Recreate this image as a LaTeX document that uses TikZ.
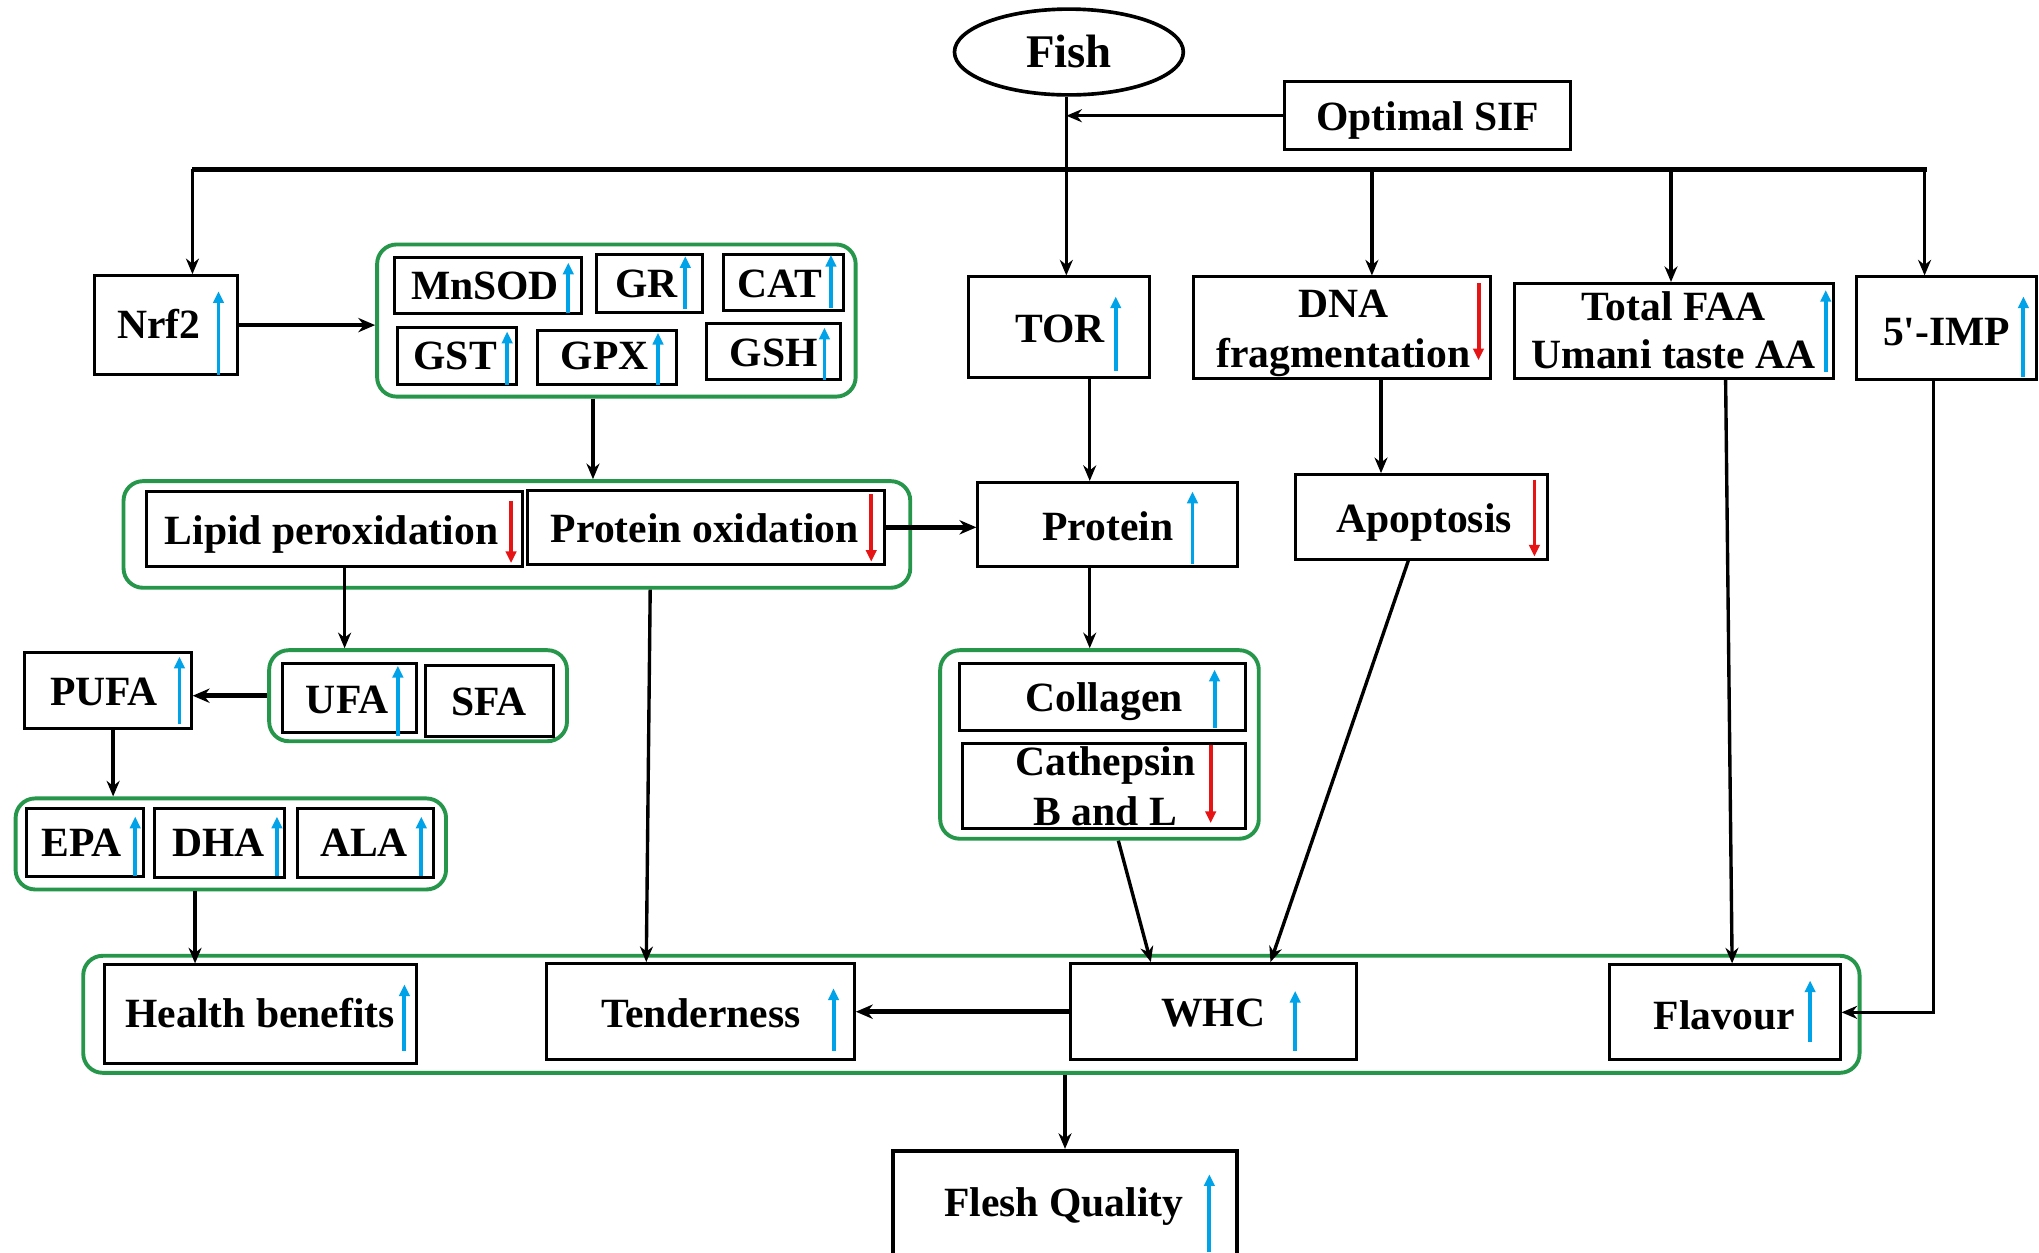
\documentclass[tikz,border=0pt]{standalone}
\usepackage{fontspec}
\setmainfont{Liberation Serif}
\usetikzlibrary{arrows.meta,shapes.geometric}
\definecolor{grn}{RGB}{38,150,75}
\definecolor{blu}{RGB}{0,162,232}
\definecolor{rd}{RGB}{230,20,20}
\newcommand{\mybox}[6][bx]{\node[#1, minimum width={#5-#3}, minimum height={#6-#4}] (#2) at ({(#3+#5)/2},{(#4+#6)/2}) {};}
\newcommand{\upar}[3]{\draw[uparr] (#1,#2) -- (#1,#3);}
\newcommand{\dnar}[3]{\draw[dnarr] (#1,#2) -- (#1,#3);}
\begin{document}
\begin{tikzpicture}[x=1pt,y=-1pt,
 bx/.style={draw, line width=2.3pt, inner sep=0},
 grp/.style={draw=grn, line width=3pt, rounded corners=15pt, inner sep=0},
 txt/.style={font=\fontsize{32}{38}\selectfont\bfseries, anchor=base, yshift=-10.5pt, inner sep=0},
 bigtxt/.style={font=\fontsize{36}{42}\selectfont\bfseries, anchor=base, yshift=-11.8pt, inner sep=0},
 arr/.style={line width=2.6pt, -{Stealth[length=12pt,width=10pt]}},
 thickarr/.style={line width=3.6pt, -{Stealth[length=13pt,width=11pt]}},
 uparr/.style={draw=blu, line width=3pt, -{Triangle[length=9pt,width=8pt]}},
 dnarr/.style={draw=rd, line width=3pt, -{Triangle[length=9pt,width=8pt]}},
]
\useasboundingbox[fill=white] (0,0) rectangle (1568,963);

% ---- top
\node[ellipse, draw, line width=2.8pt, minimum width=176pt, minimum height=66pt, inner sep=0] (fish) at (822,40) {};
\node[bigtxt] (tfish) at (822,40) {Fish};
\mybox{sif}{988}{63}{1208}{115}
\node[txt] (tsif) at (1098,90) {Optimal SIF};

% ---- groups
\mybox[grp]{antiox}{290}{188}{658}{305}
\mybox[grp]{lipgrp}{95}{370}{700}{452}
\mybox[grp]{ufagrp}{207}{500}{436}{570}
\mybox[grp]{epagrp}{12}{614}{343}{684}
\mybox[grp]{cgrp}{723}{500}{968}{645}
\mybox[grp]{bgrp}{64}{735}{1430}{825}

% ---- boxes
\mybox{nrf2}{73}{212}{183}{288}
\mybox{mnsod}{303}{198}{447}{241}
\mybox{gr}{459}{196}{540}{240}
\mybox{cat}{556}{196}{649}{239}
\mybox{gst}{306}{252}{397}{296}
\mybox{gpx}{413}{254}{520}{296}
\mybox{gsh}{543}{249}{646}{292}
\mybox{lip}{113}{378}{402}{436}
\mybox{pox}{406}{377}{680}{434}
\mybox{tor}{745}{213}{884}{290}
\mybox{protein}{752}{371}{952}{436}
\mybox{dna}{918}{213}{1146}{291}
\mybox{apop}{996}{365}{1190}{430}
\mybox{faa}{1165}{218}{1410}{291}
\mybox{imp}{1428}{213}{1566}{292}
\mybox{ufa}{217}{510}{320}{563}
\mybox{sfa}{327}{512}{426}{566}
\mybox{pufa}{19}{502}{147}{560}
\mybox{epa}{20}{622}{110}{674}
\mybox{dha}{119}{622}{219}{675}
\mybox{ala}{229}{622}{333}{675}
\mybox{coll}{738}{510}{958}{562}
\mybox{cath}{740}{572}{958}{637}
\mybox{health}{80}{742}{320}{818}
\mybox{tender}{420}{741}{657}{815}
\mybox{whc}{823}{741}{1043}{815}
\mybox{flav}{1238}{742}{1415}{815}
\node[bx, line width=3pt, minimum width=264pt, minimum height=90pt] (flesh) at (819,930) {};

% ---- texts
\node[txt] (tnrf2) at (122,250) {Nrf2};
\node[txt] (tmnsod) at (373,220) {MnSOD};
\node[txt] (tgr) at (497,218) {GR};
\node[txt] (tcat) at (600,218) {CAT};
\node[txt] (tgst) at (350,274) {GST};
\node[txt] (tgpx) at (465,274) {GPX};
\node[txt] (tgsh) at (595,271) {GSH};
\node[txt] (tlip) at (255,408) {Lipid peroxidation};
\node[txt] (tpox) at (542,407) {Protein oxidation};
\node[txt] (ttor) at (815,253) {TOR};
\node[txt] (tprotein) at (852,405) {Protein};
\node[txt] (tdna1) at (1033,234) {DNA};
\node[txt] (tdna2) at (1033,272) {fragmentation};
\node[txt] (tapop) at (1095,399) {Apoptosis};
\node[txt] (tfaa1) at (1287,236) {Total FAA};
\node[txt] (tfaa2) at (1287,273) {Umani taste AA};
\node[txt] (timp) at (1497,255) {5\textquotesingle-IMP};
\node[txt] (tpufa) at (80,532) {PUFA};
\node[txt] (tufa) at (267,538) {UFA};
\node[txt] (tsfa) at (376,540) {SFA};
\node[txt] (tepa) at (63,648) {EPA};
\node[txt] (tdha) at (168,648) {DHA};
\node[txt] (tala) at (280,648) {ALA};
\node[txt] (tcoll) at (849,537) {Collagen};
\node[txt] (tcath1) at (850,586) {Cathepsin};
\node[txt] (tcath2) at (850,624) {B and L};
\node[txt] (thealth) at (200,780) {Health benefits};
\node[txt] (ttender) at (539,780) {Tenderness};
\node[txt] (twhc) at (933,779) {WHC};
\node[txt] (tflav) at (1326,781) {Flavour};
\node[txt] (tflesh) at (818,925) {Flesh Quality};

% ---- up / down indicators
\upar{168}{288}{224}
\upar{437}{241}{202}
\upar{527}{238}{197}
\upar{639}{237}{196}
\upar{390}{296}{255}
\upar{506}{296}{256}
\upar{634}{292}{252}
\upar{858}{285}{228}
\upar{917}{434}{378}
\upar{1404}{286}{223}
\upar{1556}{290}{228}
\upar{138}{557}{505}
\upar{306}{566}{512}
\upar{104}{674}{628}
\upar{213}{674}{628}
\upar{324}{674}{628}
\upar{934}{560}{515}
\upar{311}{808}{757}
\upar{641}{808}{760}
\upar{996}{808}{762}
\upar{1392}{801}{754}
\upar{930}{963}{903}
\dnar{393}{385}{433}
\dnar{670}{380}{432}
\dnar{1137}{218}{277}
\dnar{1180}{369}{428}
\dnar{931}{573}{633}

% ---- connectors
\coordinate (busL) at (148,130);
\coordinate (busR) at (1482,130);
\coordinate (bdna) at (1055,130);
\coordinate (bfaa) at (1285,130);
\coordinate (bimp) at (1480,130);
\draw[line width=3.8pt] (busL) -- (busR);
\draw[arr] ([xshift=-2pt]fish.south) -- ([xshift=-2pt]fish.south |- tor.north);
\draw[arr] (sif.west) -- ([xshift=-2pt]fish.south |- sif.west);
\draw[arr] (busL) -- (busL |- nrf2.north);
\draw[arr] (bdna) -- (bdna |- dna.north);
\draw[arr] (bfaa) -- (bfaa |- faa.north);
\draw[arr] (bimp) -- (bimp |- imp.north);
\draw[thickarr] (nrf2.east) -- (nrf2.east -| antiox.west);
\draw[arr] ([xshift=-18pt]antiox.south) -- ([xshift=-18pt]antiox.south |- lipgrp.north);
\draw[thickarr] (pox.east) -- (pox.east -| protein.west);
\draw[arr] ([xshift=23.5pt]tor.south) -- ([xshift=23.5pt]tor.south |- protein.north);
\draw[arr] ([xshift=-14pt]protein.south) -- ([xshift=-14pt]protein.south |- cgrp.north);
\draw[arr] ([xshift=30pt]dna.south) -- ([xshift=30pt]dna.south |- apop.north);
\draw[arr] ([xshift=-10pt]apop.south) -- ([xshift=44pt]whc.north);
\draw[arr] ([xshift=14.5pt]cgrp.south) -- ([xshift=-48pt]whc.north);
\draw[arr] ([xshift=39.5pt]faa.south) -- ([xshift=5.5pt]flav.north);
\draw[arr] ([xshift=-10pt]imp.south) |- (flav.east);
\draw[arr] ([xshift=7.5pt]lip.south) -- ([xshift=7.5pt]lip.south |- ufagrp.north);
\draw[thickarr] (ufagrp.west) -- (ufagrp.west -| pufa.east);
\draw[arr] ([xshift=4pt]pufa.south) -- ([xshift=4pt]pufa.south |- epagrp.north);
\draw[arr] ([xshift=-27.5pt]epagrp.south) -- ([xshift=-27.5pt]epagrp.south |- health.north);
\draw[arr] ([xshift=102.5pt]lipgrp.south) -- ([xshift=-41.5pt]tender.north);
\draw[thickarr] (whc.west) -- (whc.west -| tender.east);
\draw[arr] (flesh.north |- bgrp.south) -- (flesh.north);
\end{tikzpicture}
\end{document}
